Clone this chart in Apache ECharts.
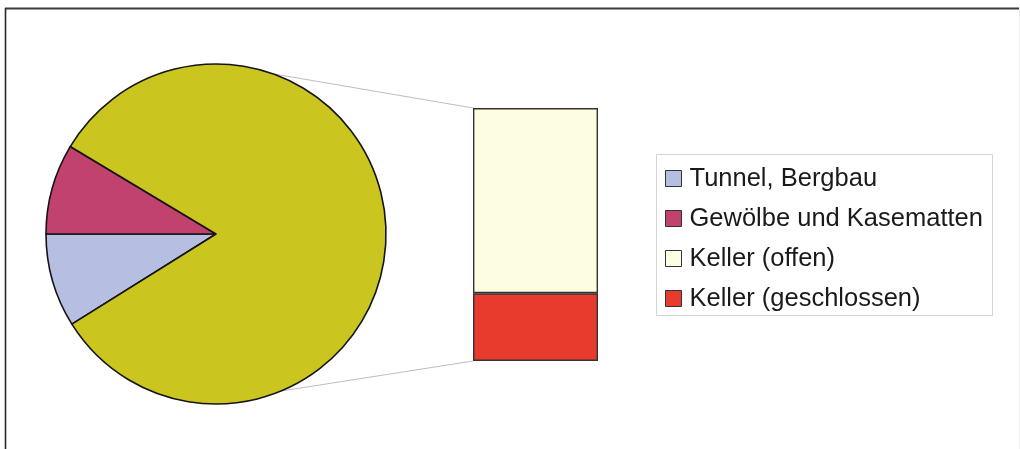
<!DOCTYPE html>
<html>
<head>
<meta charset="utf-8">
<script src="https://cdn.jsdelivr.net/npm/echarts@6/dist/echarts.min.js"></script>
<style>
  html, body { margin: 0; padding: 0; background: #ffffff; }
  #chart { width: 1020px; height: 449px; }
</style>
</head>
<body>
<div id="chart"></div>
<script>
// Anteile der Quartiertypen (%)
const pieNames = ['Tunnel, Bergbau', 'Gewölbe und Kasematten'];
const pieValues = [8.9, 8.6];
const kellerNames = ['Keller (offen)', 'Keller (geschlossen)'];
const kellerValues = [60.4, 22.1];
const legendNames = ['Tunnel, Bergbau', 'Gewölbe und Kasematten', 'Keller (offen)', 'Keller (geschlossen)'];

const pieColors = ['#b6bfe2', '#c2426f'];
const otherColor = '#cbc61f';
const kellerColors = ['#fdfde1', '#e93b2d'];

const kellerTotal = kellerValues.reduce((a, b) => a + b, 0);
const total = pieValues.reduce((a, b) => a + b, 0) + kellerTotal;
// Erstes Segment beginnt so, dass die Grenze zwischen Tunnel und Gewölbe links liegt
const startAngle = 180 + pieValues[0] / total * 360;

const pieCenter = [216, 234];
const pieRadius = 170;
const font = 'Liberation Sans, Arial, sans-serif';

const chart = echarts.init(document.getElementById('chart'), null, { renderer: 'canvas' });

const pieData = pieNames.map((n, i) => ({
  name: n, value: pieValues[i], itemStyle: { color: pieColors[i] }
}));
pieData.push({ name: 'Keller', value: kellerTotal, itemStyle: { color: otherColor } });

const option = {
  animation: false,
  backgroundColor: '#ffffff',
  textStyle: { fontFamily: font },
  grid: { left: 473, top: 108, width: 125, height: 253, containLabel: false },
  xAxis: { type: 'category', data: ['Keller'], show: false },
  yAxis: { type: 'value', min: 0, max: kellerTotal, show: false },
  legend: {
    data: legendNames,
    orient: 'vertical',
    left: 660,
    top: 160,
    icon: 'rect',
    itemWidth: 16,
    itemHeight: 16,
    itemGap: 13,
    itemStyle: { borderColor: '#333333', borderWidth: 1 },
    textStyle: { fontSize: 25.5, color: '#1a1a1a', fontFamily: font, lineHeight: 27, padding: [0, 0, 0, 3] },
    selectedMode: false
  },
  series: [
    {
      type: 'pie',
      center: pieCenter,
      radius: pieRadius,
      startAngle: startAngle,
      clockwise: true,
      label: { show: false },
      labelLine: { show: false },
      itemStyle: { borderColor: '#141414', borderWidth: 1.6 },
      emphasis: { disabled: true },
      data: pieData
    },
    {
      type: 'bar',
      name: kellerNames[1],
      stack: 'keller',
      barWidth: '100%',
      data: [kellerValues[1]],
      itemStyle: { color: kellerColors[1], borderColor: '#333333', borderWidth: 1.4 },
      emphasis: { disabled: true }
    },
    {
      type: 'bar',
      name: kellerNames[0],
      stack: 'keller',
      barWidth: '100%',
      data: [kellerValues[0]],
      itemStyle: { color: kellerColors[0], borderColor: '#333333', borderWidth: 1.4 },
      emphasis: { disabled: true }
    }
  ]
};
chart.setOption(option);

// Verbindungslinien vom Kreis zur Säule und Rahmen
const topCorner = chart.convertToPixel({ gridIndex: 0 }, [0, kellerTotal]);
const botCorner = chart.convertToPixel({ gridIndex: 0 }, [0, 0]);
const barLeft = 473;
function circlePoint(deg) {
  const r = deg * Math.PI / 180;
  return [pieCenter[0] + pieRadius * Math.cos(r), pieCenter[1] - pieRadius * Math.sin(r)];
}
const pTop = circlePoint(70.5);
const pBot = circlePoint(-67.5);

chart.setOption({
  graphic: [
    { type: 'line', z: -1, shape: { x1: pTop[0], y1: pTop[1], x2: barLeft, y2: topCorner[1] }, style: { stroke: '#bdbdbd', lineWidth: 1 } },
    { type: 'line', z: -1, shape: { x1: pBot[0], y1: pBot[1], x2: barLeft, y2: botCorner[1] }, style: { stroke: '#bdbdbd', lineWidth: 1 } },
    { type: 'rect', z: -2, shape: { x: 656.5, y: 154.5, width: 336, height: 161 }, style: { fill: '#ffffff', stroke: '#d4d4d4', lineWidth: 1 } },
    { type: 'line', shape: { x1: 5, y1: 8.5, x2: 1019, y2: 8.5 }, style: { stroke: '#3a3a3a', lineWidth: 2 } },
    { type: 'line', shape: { x1: 5.5, y1: 8, x2: 5.5, y2: 449 }, style: { stroke: '#2a2a2a', lineWidth: 1.6 } },
    { type: 'line', shape: { x1: 1019.5, y1: 9, x2: 1019.5, y2: 449 }, style: { stroke: '#ececec', lineWidth: 1 } }
  ]
});
</script>
</body>
</html>
